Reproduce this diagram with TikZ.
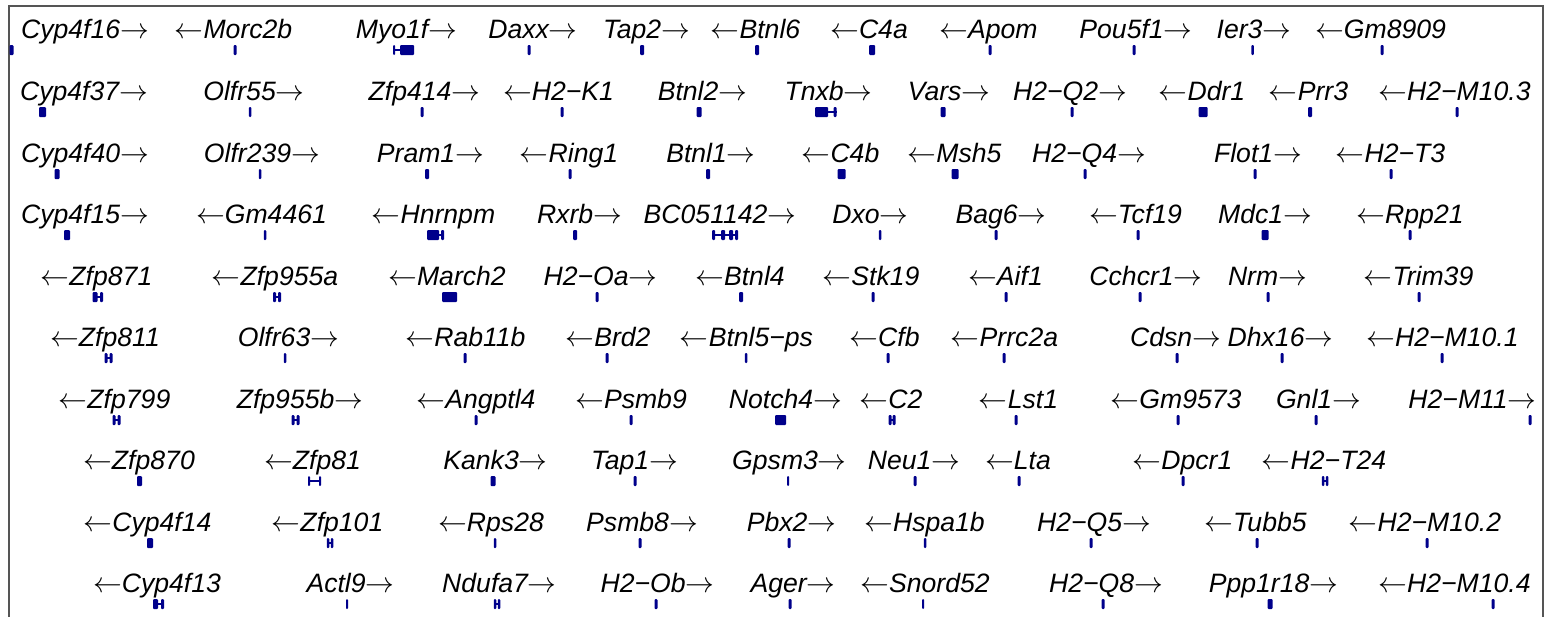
\documentclass[tikz,border=0pt]{standalone}
\usepackage{fontspec}
\setmainfont{Liberation Sans}
\definecolor{navy}{RGB}{0,0,139}
\definecolor{framegray}{RGB}{85,85,85}

\tikzset{
    gene/.style={anchor=base, inner sep=0pt, font=\fontsize{13.3}{15}\selectfont\itshape},
    exon/.style={fill=navy, rounded corners=0.5pt},
    intron/.style={draw=navy, line width=0.7pt},
    frame/.style={draw=framegray, line width=1pt}
}
\newcommand{\exon}[3]{\fill[exon] ({#1-#3/2},{#2-5}) rectangle ({#1+#3/2},{#2+5});}
\newcommand{\intron}[3]{\draw[intron] (#1,#3) -- (#2,#3);}
\newcommand{\fw}{$\rightarrow$}
\newcommand{\rv}{$\leftarrow$}

\begin{document}
\begin{tikzpicture}[x=0.5pt, y=-0.5pt]
    \useasboundingbox (0,0) rectangle (1545,616);
    \draw[frame] (9,620) |- (1543,6) -- (1543,620);

    % row 1
    \node[gene] (cyp4f16) at (85,38) {Cyp4f16\fw};        \exon{11.5}{50}{4}
    \node[gene] (morc2b) at (233.5,38) {\rv Morc2b};       \exon{235}{50}{3}
    \node[gene] (myo1f) at (406.5,38) {Myo1f\fw};         \intron{393}{402}{50} \exon{394}{50}{2} \exon{407}{50}{14}
    \node[gene] (daxx) at (533,38) {Daxx\fw};             \exon{529}{50}{3}
    \node[gene] (tap2) at (646.5,38) {Tap2\fw};           \exon{642}{50}{4}
    \node[gene] (btnl6) at (755.5,38) {\rv Btnl6};         \exon{757}{50}{4}
    \node[gene] (c4a) at (869,38) {\rv C4a};               \exon{872}{50}{6}
    \node[gene] (apom) at (988.5,38) {\rv Apom};           \exon{990}{50}{3}
    \node[gene] (pou5f1) at (1136,38) {Pou5f1\fw};        \exon{1134}{50}{3}
    \node[gene] (ier3) at (1254,38) {Ier3\fw};            \exon{1252.5}{50}{2.5}
    \node[gene] (gm8909) at (1380.5,38) {\rv Gm8909};      \exon{1382}{50}{3}

    % row 2
    \node[gene] (cyp4f37) at (84,100) {Cyp4f37\fw};       \exon{42.5}{112}{7}
    \node[gene] (olfr55) at (254,100) {Olfr55\fw};        \exon{250}{112}{2.5}
    \node[gene] (zfp414) at (424.5,100) {Zfp414\fw};      \exon{422}{112}{3}
    \node[gene] (h2k1) at (558.5,100) {\rv H2−K1};         \exon{562}{112}{3}
    \node[gene] (btnl2) at (702.5,100) {Btnl2\fw};        \exon{699}{112}{5}
    \node[gene] (tnxb) at (828.5,100) {Tnxb\fw};          \intron{815}{837}{112} \exon{821.5}{112}{13} \exon{835}{112}{3}
    \node[gene] (vars) at (949,100) {Vars\fw};            \exon{943}{112}{5}
    \node[gene] (h2q2) at (1070,100) {H2−Q2\fw};          \exon{1072}{112}{3}
    \node[gene] (ddr1) at (1202,100) {\rv Ddr1};           \exon{1203}{112}{9}
    \node[gene] (prr3) at (1308.5,100) {\rv Prr3};         \exon{1310}{112}{4}
    \node[gene] (h2m103) at (1454.5,100) {\rv H2−M10.3};   \exon{1457}{112}{3}

    % row 3
    \node[gene] (cyp4f40) at (85,162) {Cyp4f40\fw};       \exon{57}{174}{5}
    \node[gene] (olfr239) at (262,162) {Olfr239\fw};      \exon{260}{174}{2.5}
    \node[gene] (pram1) at (430.5,162) {Pram1\fw};        \exon{427}{174}{4}
    \node[gene] (ring1) at (569,162) {\rv Ring1};          \exon{570}{174}{3}
    \node[gene] (btnl1) at (711,162) {Btnl1\fw};          \exon{708}{174}{4}
    \node[gene] (c4b) at (840.5,162) {\rv C4b};            \exon{841.5}{174}{8}
    \node[gene] (msh5) at (954.5,162) {\rv Msh5};          \exon{955}{174}{7}
    \node[gene] (h2q4) at (1089,162) {H2−Q4\fw};          \exon{1085}{174}{3}
    \node[gene] (flot1) at (1258,162) {Flot1\fw};         \exon{1255}{174}{3}
    \node[gene] (h2t3) at (1390.5,162) {\rv H2−T3};        \exon{1391}{174}{3}

    % row 4
    \node[gene] (cyp4f15) at (85,223) {Cyp4f15\fw};       \exon{67}{235}{6}
    \node[gene] (gm4461) at (261.5,223) {\rv Gm4461};      \exon{265}{235}{2.5}
    \node[gene] (hnrnpm) at (433.5,223) {\rv Hnrnpm};      \intron{427}{444}{235} \exon{433}{235}{12} \exon{442.5}{235}{3}
    \node[gene] (rxrb) at (579.5,223) {Rxrb\fw};          \exon{575}{235}{4}
    \node[gene] (bc051142) at (720,223) {BC051142\fw};    \intron{712}{738}{235} \exon{713.5}{235}{3} \exon{723}{235}{4} \exon{731}{235}{4} \exon{736.5}{235}{3}
    \node[gene] (dxo) at (870.5,223) {Dxo\fw};            \exon{880}{235}{2.5}
    \node[gene] (bag6) at (1001,223) {Bag6\fw};           \exon{996}{235}{3}
    \node[gene] (tcf19) at (1135.5,223) {\rv Tcf19};       \exon{1138}{235}{3}
    \node[gene] (mdc1) at (1265,223) {Mdc1\fw};           \exon{1265}{235}{7}
    \node[gene] (rpp21) at (1410,223) {\rv Rpp21};         \exon{1410}{235}{3}

    % row 5
    \node[gene] (zfp871) at (96.5,285) {\rv Zfp871};       \intron{93}{103}{297} \exon{95}{297}{5} \exon{101.5}{297}{3}
    \node[gene] (zfp955a) at (275,285) {\rv Zfp955a};      \intron{273}{281}{297} \exon{274.5}{297}{3} \exon{279.5}{297}{3}
    \node[gene] (march2) at (447,285) {\rv March2};        \exon{449.5}{297}{15}
    \node[gene] (h2oa) at (600.5,285) {H2−Oa\fw};         \exon{597}{297}{3}
    \node[gene] (btnl4) at (740,285) {\rv Btnl4};          \exon{741}{297}{4}
    \node[gene] (stk19) at (871,285) {\rv Stk19};          \exon{873}{297}{3}
    \node[gene] (aif1) at (1005.5,285) {\rv Aif1};         \exon{1006}{297}{3}
    \node[gene] (cchcr1) at (1146,285) {Cchcr1\fw};       \exon{1140}{297}{3}
    \node[gene] (nrm) at (1267.5,285) {Nrm\fw};           \exon{1268}{297}{3}
    \node[gene] (trim39) at (1418.5,285) {\rv Trim39};     \exon{1419}{297}{3}

    % row 6
    \node[gene] (zfp811) at (105,346) {\rv Zfp811};        \intron{105}{112}{358} \exon{106}{358}{3} \exon{111}{358}{3}
    \node[gene] (olfr63) at (288.5,346) {Olfr63\fw};      \exon{285}{358}{2.5}
    \node[gene] (rab11b) at (465.5,346) {\rv Rab11b};      \exon{465}{358}{3}
    \node[gene] (brd2) at (608,346) {\rv Brd2};            \exon{607}{358}{3}
    \node[gene] (btnl5ps) at (746.5,346) {\rv Btnl5−ps};   \exon{746}{358}{2.5}
    \node[gene] (cfb) at (884.5,346) {\rv Cfb};            \exon{888}{358}{3}
    \node[gene] (prrc2a) at (1004.5,346) {\rv Prrc2a};     \exon{1004}{358}{3}
    \node[gene] (cdsn) at (1175.5,346) {Cdsn\fw};         \exon{1177}{358}{3}
    \node[gene] (dhx16) at (1280.5,346) {Dhx16\fw};       \exon{1282}{358}{3}
    \node[gene] (h2m101) at (1442.5,346) {\rv H2−M10.1};   \exon{1442}{358}{3}

    % row 7
    \node[gene] (zfp799) at (114.5,408) {\rv Zfp799};      \intron{113}{120}{420} \exon{114}{420}{3} \exon{119}{420}{3}
    \node[gene] (zfp955b) at (300,408) {Zfp955b\fw};      \intron{292}{299}{420} \exon{293}{420}{3} \exon{298}{420}{3}
    \node[gene] (angptl4) at (476,408) {\rv Angptl4};      \exon{476}{420}{3}
    \node[gene] (psmb9) at (631,408) {\rv Psmb9};          \exon{631}{420}{3}
    \node[gene] (notch4) at (785.5,408) {Notch4\fw};      \exon{780.5}{420}{11}
    \node[gene] (c2) at (891,408) {\rv C2};                \intron{889}{895}{420} \exon{890}{420}{3} \exon{894}{420}{3}
    \node[gene] (lst1) at (1018.5,408) {\rv Lst1};         \exon{1016}{420}{3}
    \node[gene] (gm9573) at (1176,408) {\rv Gm9573};       \exon{1178}{420}{3}
    \node[gene] (gnl1) at (1318.5,408) {Gnl1\fw};         \exon{1316}{420}{3}
    \node[gene] (h2m11) at (1472.5,408) {H2−M11\fw};      \exon{1530}{420}{3}

    % row 8
    \node[gene] (zfp870) at (139,469) {\rv Zfp870};        \exon{139.5}{481}{5}
    \node[gene] (zfp81) at (312.5,469) {\rv Zfp81};        \intron{308}{321}{481} \exon{309}{481}{2} \exon{320}{481}{2}
    \node[gene] (kank3) at (495.5,469) {Kank3\fw};        \exon{493}{481}{5}
    \node[gene] (tap1) at (634.5,469) {Tap1\fw};          \exon{635}{481}{3}
    \node[gene] (gpsm3) at (789.5,469) {Gpsm3\fw};        \exon{788}{481}{2}
    \node[gene] (neu1) at (914,469) {Neu1\fw};            \exon{915}{481}{3}
    \node[gene] (lta) at (1018,469) {\rv Lta};             \exon{1019}{481}{3}
    \node[gene] (dpcr1) at (1182.5,469) {\rv Dpcr1};       \exon{1183}{481}{3}
    \node[gene] (h2t24) at (1324,469) {\rv H2−T24};        \intron{1322}{1328}{481} \exon{1323}{481}{2.5} \exon{1327}{481}{2.5}

    % row 9
    \node[gene] (cyp4f14) at (147.5,531) {\rv Cyp4f14};    \exon{150}{543}{6}
    \node[gene] (zfp101) at (327.5,531) {\rv Zfp101};      \intron{327}{333}{543} \exon{328}{543}{2.5} \exon{332}{543}{2.5}
    \node[gene] (rps28) at (491,531) {\rv Rps28};          \exon{495}{543}{2.5}
    \node[gene] (psmb8) at (642,531) {Psmb8\fw};          \exon{640}{543}{3}
    \node[gene] (pbx2) at (791.5,531) {Pbx2\fw};          \exon{789}{543}{3}
    \node[gene] (hspa1b) at (924.5,531) {\rv Hspa1b};      \exon{925}{543}{2.5}
    \node[gene] (h2q5) at (1094,531) {H2−Q5\fw};          \exon{1091}{543}{3}
    \node[gene] (tubb5) at (1255.5,531) {\rv Tubb5};       \exon{1257}{543}{3}
    \node[gene] (h2m102) at (1425,531) {\rv H2−M10.2};     \exon{1427}{543}{3}

    % row 10
    \node[gene] (cyp4f13) at (157,592) {\rv Cyp4f13};      \intron{153}{164}{604} \exon{155.5}{604}{5} \exon{162.5}{604}{3}
    \node[gene] (actl9) at (350.5,592) {Actl9\fw};        \exon{347}{604}{2}
    \node[gene] (ndufa7) at (499.5,592) {Ndufa7\fw};      \intron{494}{500}{604} \exon{495}{604}{2.5} \exon{499}{604}{2.5}
    \node[gene] (h2ob) at (657.5,592) {H2−Ob\fw};         \exon{656}{604}{3}
    \node[gene] (ager) at (793,592) {Ager\fw};            \exon{790}{604}{3}
    \node[gene] (snord52) at (925,592) {\rv Snord52};      \exon{923}{604}{2}
    \node[gene] (h2q8) at (1106,592) {H2−Q8\fw};          \exon{1103}{604}{3}
    \node[gene] (ppp1r18) at (1273.5,592) {Ppp1r18\fw};   \exon{1270}{604}{5}
    \node[gene] (h2m104) at (1454.5,592) {\rv H2−M10.4};   \exon{1493}{604}{3}
\end{tikzpicture}
\end{document}
